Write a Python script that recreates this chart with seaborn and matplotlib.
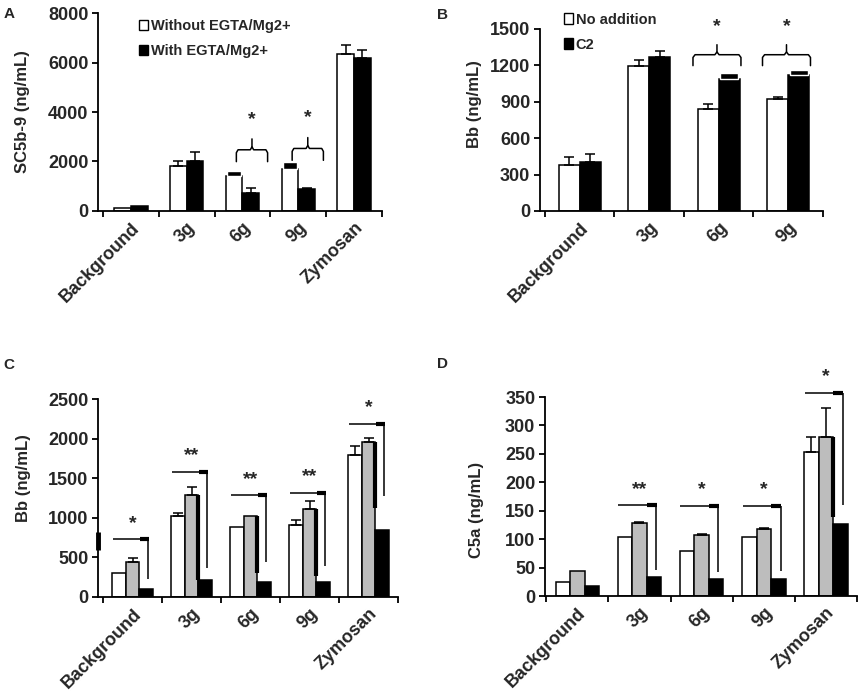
import matplotlib
matplotlib.use("Agg")
import matplotlib.pyplot as plt
import pandas as pd
import seaborn as sns
from matplotlib.patches import Patch

# ---- data ----
cats = ["Background", "3g", "6g", "9g", "Zymosan"]
cats_b = ["Background", "3g", "6g", "9g"]

# A: SC5b-9
a_without = [135, 1800, 1420, 1690, 6350]
a_without_err = [0, 200, 215, 295, 340]
a_with = [190, 2000, 745, 905, 6190]
a_with_err = [0, 390, 175, 30, 325]
a_brace_y = [None, None, 2473, 2527, None]

# B: Bb, no addition vs C2
b_none = [383, 1199, 844, 921]
b_none_err = [58, 47, 36, 22]
b_c2 = [405, 1266, 1089, 1122]
b_c2_err = [61, 49, 47, 36]
b_brace_y = [None, None, 1288, 1288]

# C: Bb, three conditions
c_white = [297, 1017, 884, 905, 1797]
c_white_err = [0, 38, 0, 71, 114]
c_gray = [445, 1288, 1019, 1111, 1953]
c_gray_err = [47, 98, 0, 105, 55]
c_black = [97, 212, 189, 189, 850]
c_black_err = [0, 0, 0, 0, 0]
c_stars = ["*", "**", "**", "**", "*"]
c_line_y = [733, 1580, 1284, 1317, 2189]
c_drop_y = [233, 360, 438, 387, 1279]
c_shadow_low = [None, 212, 303, 261, 1124]

# D: C5a
d_white = [25, 104, 80, 104, 253]
d_white_err = [0, 0, 0, 0, 27]
d_gray = [44.5, 129, 107, 118, 280]
d_gray_err = [0, 1.5, 2, 1.5, 51]
d_black = [17.6, 33, 30, 30, 126]
d_black_err = [0, 0, 0, 0, 0]
d_stars = [None, "**", "*", "*", "*"]
d_line_y = [None, 160, 158.6, 158.6, 357.5]
d_drop_y = [None, 46, 43, 44, 160]
d_shadow_low = [None, None, None, None, 139]

sns.set_theme(style="ticks")
plt.rcParams["font.family"] = ["Liberation Sans", "DejaVu Sans"]
plt.rcParams["font.weight"] = "bold"
plt.rcParams["axes.linewidth"] = 1.3

LW = 1.1


def draw_bars(ax, order, names, series, colors, width):
    rows = []
    for name, vals in zip(names, series):
        for c, v in zip(order, vals):
            rows.append({"cat": c, "grp": name, "val": v})
    df = pd.DataFrame(rows)
    sns.barplot(data=df, x="cat", y="val", hue="grp", order=order,
                hue_order=names, palette=dict(zip(names, colors)),
                saturation=1, width=width, gap=0, edgecolor="black",
                linewidth=LW, errorbar=None, legend=False, ax=ax)
    return ax.containers


def add_errors(ax, container, vals, errs, heavy=()):
    xs, ys, es = [], [], []
    for i, (b, v, e) in enumerate(zip(container, vals, errs)):
        x = b.get_x() + b.get_width() / 2
        if i in heavy:
            # thick black cap drawn as a filled band above the bar
            ax.bar(x, e, bottom=v, width=b.get_width() * 0.85,
                   color="black", zorder=3)
        elif e > 0:
            xs.append(x)
            ys.append(v)
            es.append(e)
    if xs:
        ax.errorbar(xs, ys, yerr=[[0] * len(es), es], fmt="none",
                    ecolor="black", elinewidth=LW, capsize=3.5,
                    capthick=LW, zorder=3)


def style_axis(ax, order, ymax, step, ylabel, xleft, label_xy):
    sns.despine(ax=ax)
    ax.set_xlim(xleft, len(order) - 0.5)
    ax.set_ylim(0, ymax)
    ax.set_yticks(range(0, ymax + 1, step))
    ax.set_xticks(range(len(order)))
    ax.set_xticklabels(order, rotation=45, ha="right",
                       rotation_mode="anchor", fontsize=13,
                       fontweight="bold")
    ax.set_xticks([i - 0.5 for i in range(len(order) + 1)], minor=True)
    ax.tick_params(axis="x", which="major", length=0, pad=6)
    ax.tick_params(axis="x", which="minor", length=4, width=1.3,
                   direction="out", color="black")
    ax.tick_params(axis="y", length=4, width=1.3, direction="out",
                   labelsize=13, pad=3, color="black")
    for t in ax.get_yticklabels():
        t.set_fontweight("bold")
    ax.set_xlabel("")
    ax.set_ylabel(ylabel, fontsize=12, fontweight="bold")
    ax.yaxis.set_label_coords(*label_xy)
    for s in ax.spines.values():
        s.set_color("black")


def brace(ax, g, y, ymax, dx0, dx1, label="*"):
    x0, x1 = g + dx0, g + dx1
    xm = (x0 + x1) / 2
    yb = y - 0.06 * ymax
    yt = y + 0.055 * ymax
    r = 0.015 * ymax
    e = 0.03
    kw = dict(color="black", lw=LW, clip_on=False, zorder=4)
    ax.plot([x0, x0, x0 + e, xm - e, xm, xm],
            [yb, y - r, y, y, y + r, yt], **kw)
    ax.plot([xm, xm + e, x1 - e, x1, x1],
            [y + r, y, y, y - r, yb], **kw)
    ax.text(xm, y + 0.155 * ymax, label, ha="center", va="center",
            fontsize=14, fontweight="bold")


def sig_line(ax, g, y, ydrop, label, ymax, xl=-0.33, xr=0.28):
    kw = dict(color="black", clip_on=False, zorder=4,
              solid_capstyle="butt")
    ax.plot([g + xl, g + xr], [y, y], lw=LW, **kw)
    ax.plot([g + 0.12, g + xr], [y, y], lw=3, **kw)
    ax.plot([g + xr - 0.01, g + xr - 0.01], [y, ydrop], lw=LW, **kw)
    ax.text(g, y + 0.08 * ymax, label, ha="center", va="center",
            fontsize=14, fontweight="bold")


def shadow(ax, container, tops, lows):
    for b, top, low in zip(container, tops, lows):
        if low is None:
            continue
        x = b.get_x() + b.get_width()
        ax.plot([x, x], [low, top], color="black", lw=3, zorder=3,
                solid_capstyle="butt")


fig = plt.figure(figsize=(8.58, 6.97), dpi=100)

# ---------------- A ----------------
axA = fig.add_axes([0.1142, 0.6973, 0.331, 0.284])
conts = draw_bars(axA, cats, ["Without EGTA/Mg2+", "With EGTA/Mg2+"],
                  [a_without, a_with], ["white", "black"], 0.6)
add_errors(axA, conts[0], a_without, a_without_err, heavy=(2, 3))
add_errors(axA, conts[1], a_with, a_with_err)
for g, y in enumerate(a_brace_y):
    if y is not None:
        brace(axA, g, y, 8000, -0.11, 0.45)
style_axis(axA, cats, 8000, 2000, "SC5b-9 (ng/mL)", -0.59, (-0.24, 0.5))
handles = [Patch(facecolor="white", edgecolor="black", lw=1),
           Patch(facecolor="black", edgecolor="black", lw=1)]
axA.legend(handles, ["Without EGTA/Mg2+", "With EGTA/Mg2+"],
           loc="upper left", bbox_to_anchor=(0.145, 0.97), frameon=False,
           prop={"size": 10.5, "weight": "bold"}, handlelength=0.6,
           handleheight=0.7, handletextpad=0.2, labelspacing=0.75,
           borderpad=0, borderaxespad=0)

# ---------------- B ----------------
axB = fig.add_axes([0.6294, 0.6973, 0.3298, 0.2611])
conts = draw_bars(axB, cats_b, ["No addition", "C2"], [b_none, b_c2],
                  ["white", "black"], 0.6)
add_errors(axB, conts[0], b_none, b_none_err)
add_errors(axB, conts[1], b_c2, b_c2_err, heavy=(2, 3))
for g, y in enumerate(b_brace_y):
    if y is not None:
        brace(axB, g, y, 1500, -0.37, 0.32)
style_axis(axB, cats_b, 1500, 300, "Bb (ng/mL)", -0.57, (-0.205, 0.59))
handles = [Patch(facecolor="white", edgecolor="black", lw=1),
           Patch(facecolor="black", edgecolor="black", lw=1)]
axB.legend(handles, ["No addition", "C2"],
           loc="upper left", bbox_to_anchor=(0.085, 1.09), frameon=False,
           prop={"size": 10.5, "weight": "bold"}, handlelength=0.6,
           handleheight=0.7, handletextpad=0.2, labelspacing=0.75,
           borderpad=0, borderaxespad=0)

# ---------------- C ----------------
axC = fig.add_axes([0.1142, 0.1435, 0.3497, 0.284])
names3 = ["white", "gray", "black"]
conts = draw_bars(axC, cats, names3, [c_white, c_gray, c_black],
                  ["white", "#bdbdbd", "black"], 0.68)
add_errors(axC, conts[0], c_white, c_white_err)
add_errors(axC, conts[1], c_gray, c_gray_err)
add_errors(axC, conts[2], c_black, c_black_err)
shadow(axC, conts[1], c_gray, c_shadow_low)
for g in range(len(cats)):
    sig_line(axC, g, c_line_y[g], c_drop_y[g], c_stars[g], 2500)
# small dark mark sitting on the y axis in the original
axC.plot([-0.585, -0.585], [593, 820], color="black", lw=3.5,
         clip_on=False, solid_capstyle="butt")
style_axis(axC, cats, 2500, 500, "Bb (ng/mL)", -0.585, (-0.224, 0.6))

# ---------------- D ----------------
axD = fig.add_axes([0.6352, 0.1449, 0.3636, 0.2855])
conts = draw_bars(axD, cats, names3, [d_white, d_gray, d_black],
                  ["white", "#bdbdbd", "black"], 0.7)
add_errors(axD, conts[0], d_white, d_white_err)
add_errors(axD, conts[1], d_gray, d_gray_err)
add_errors(axD, conts[2], d_black, d_black_err)
shadow(axD, conts[1], d_gray, d_shadow_low)
for g in range(len(cats)):
    if d_stars[g] is not None:
        sig_line(axD, g, d_line_y[g], d_drop_y[g], d_stars[g], 350,
                 xl=-0.34, xr=0.28)
style_axis(axD, cats, 350, 50, "C5a (ng/mL)", -0.52, (-0.194, 0.43))

for x, y, s in [(0.004, 0.99, "A"), (0.509, 0.988, "B"),
                (0.004, 0.487, "C"), (0.509, 0.488, "D")]:
    fig.text(x, y, s, fontsize=11, fontweight="bold", va="top", ha="left")

fig.savefig("out.png", dpi=100)
